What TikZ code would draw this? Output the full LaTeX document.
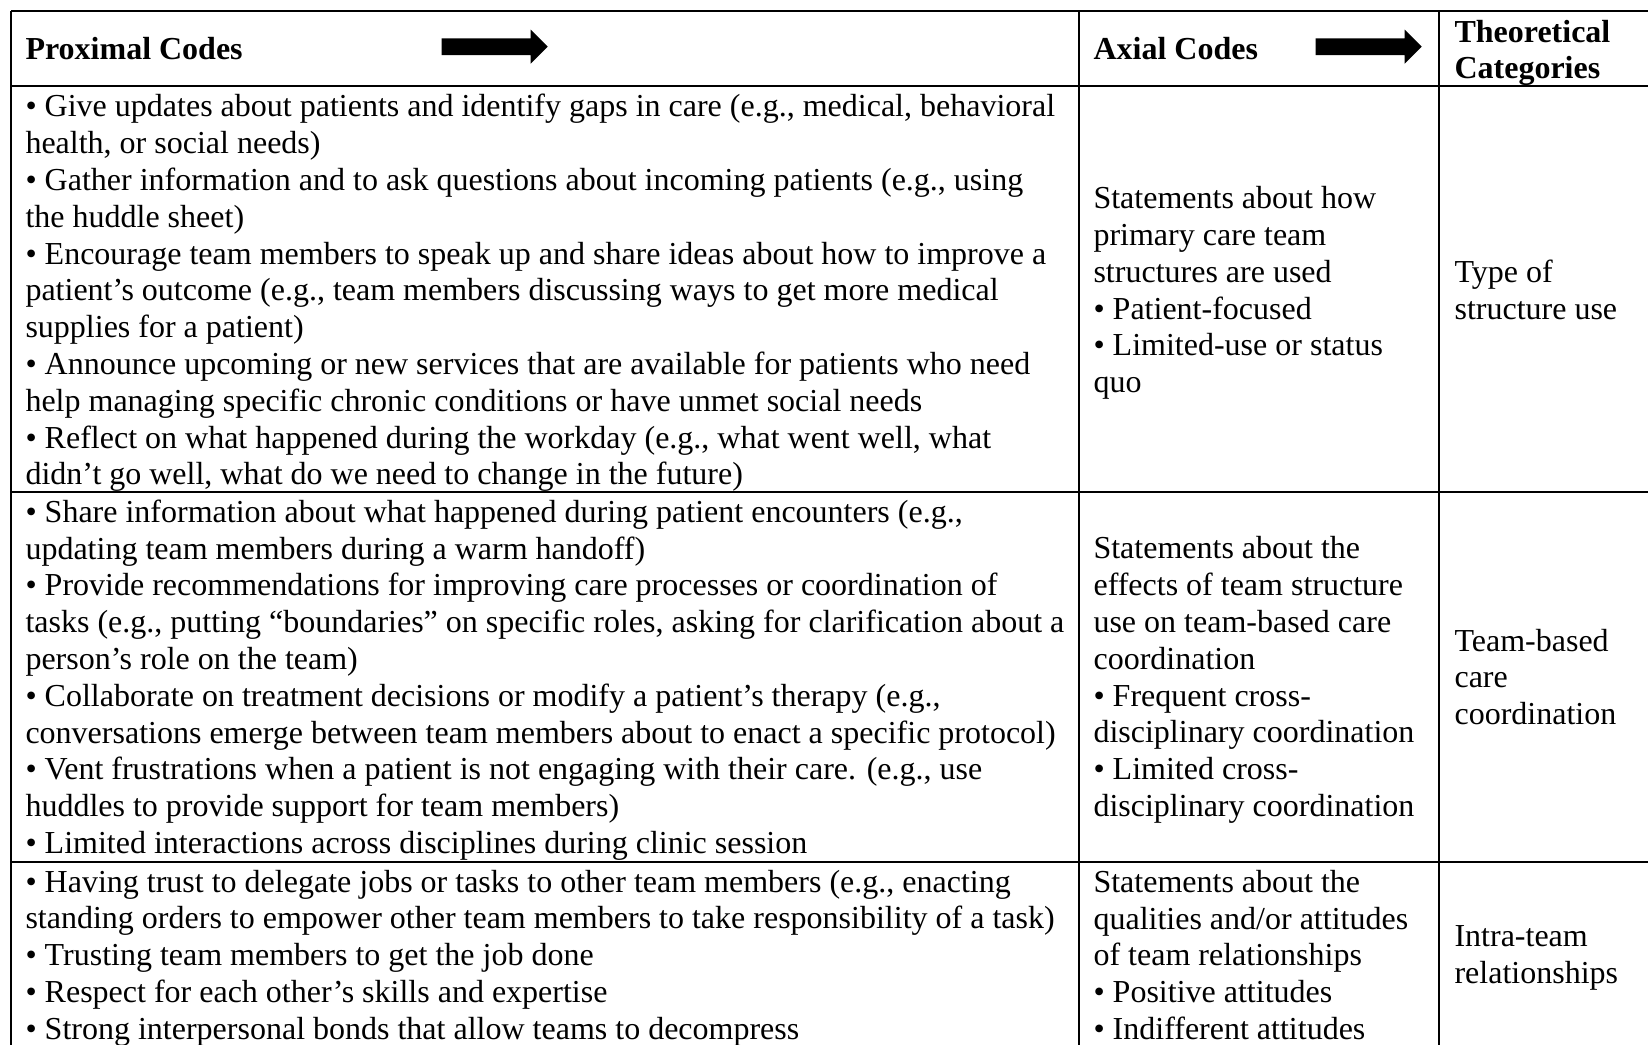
\documentclass[tikz,border=0pt]{standalone}
\usepackage{fontspec}
\setmainfont{Liberation Serif}
\newcommand{\panah}[1]{\fill (#1) ++(0,-8.35) -- ++(89,0) -- ++(0,-8.65) -- ++(17,17) -- ++(-17,17) -- ++(0,-8.65) -- ++(-89,0) -- cycle;}

\begin{document}
\begin{tikzpicture}[x=0.375pt,y=-0.375pt,
  rule/.style={line width=0.75pt},
  cell/.style={anchor=west,inner sep=0pt,align=left,font=\fontsize{12}{13.8}\selectfont},
  head/.style={cell,font=\fontsize{12}{13.8}\selectfont\bfseries}]
  \useasboundingbox (0,0) rectangle (1648,1045);

  % grid
  \foreach \y in {11,86,492,862} \draw[rule] (11,\y) -- (1648,\y);
  \foreach \x in {11,1079,1439} \draw[rule] (\x,11) -- (\x,1045);

  % header
  \node[head] (hprox)  at (25,49)   {Proximal Codes};
  \node[head] (haxial) at (1093,49) {Axial Codes};
  \node[head] (htheo)  at (1454,53) {Theoretical\\Categories};
  \coordinate (arA) at (441.7,46.7);
  \coordinate (arB) at (1315.7,46.7);
  \panah{arA}
  \panah{arB}

  % row 1
  \node[cell] (p1) at (25,293) {• Give updates about patients and identify gaps in care (e.g., medical, behavioral\\
    health, or social needs)\\
    • Gather information and to ask questions about incoming patients (e.g., using\\
    the huddle sheet)\\
    • Encourage team members to speak up and share ideas about how to improve a\\
    patient’s outcome (e.g., team members discussing ways to get more medical\\
    supplies for a patient)\\
    • Announce upcoming or new services that are available for patients who need\\
    help managing specific chronic conditions or have unmet social needs\\
    • Reflect on what happened during the workday (e.g., what went well, what\\
    didn’t go well, what do we need to change in the future)};
  \node[cell] (a1) at (1093,293) {Statements about how\\primary care team\\structures are used\\
    • Patient-focused\\• Limited-use or status\\quo};
  \node[cell] (t1) at (1454,290) {Type of\\structure use};

  % row 2
  \node[cell] (p2) at (25,680) {• Share information about what happened during patient encounters (e.g.,\\
    updating team members during a warm handoff)\\
    • Provide recommendations for improving care processes or coordination of\\
    tasks (e.g., putting “boundaries” on specific roles, asking for clarification about a\\
    person’s role on the team)\\
    • Collaborate on treatment decisions or modify a patient’s therapy (e.g.,\\
    conversations emerge between team members about to enact a specific protocol)\\
    • Vent frustrations when a patient is not engaging with their care. (e.g., use\\
    huddles to provide support for team members)\\
    • Limited interactions across disciplines during clinic session};
  \node[cell] (a2) at (1093,680) {Statements about the\\effects of team structure\\use on team-based care\\coordination\\
    • Frequent cross-\\disciplinary coordination\\• Limited cross-\\disciplinary coordination};
  \node[cell] (t2) at (1454,677) {Team-based\\care\\coordination};

  % row 3
  \node[cell] (p3) at (25,958) {• Having trust to delegate jobs or tasks to other team members (e.g., enacting\\
    standing orders to empower other team members to take responsibility of a task)\\
    • Trusting team members to get the job done\\
    • Respect for each other’s skills and expertise\\
    • Strong interpersonal bonds that allow teams to decompress};
  \node[cell] (a3) at (1093,955) {Statements about the\\qualities and/or attitudes\\of team relationships\\
    • Positive attitudes\\• Indifferent attitudes};
  \node[cell] (t3) at (1454,958) {Intra-team\\relationships};
\end{tikzpicture}
\end{document}
